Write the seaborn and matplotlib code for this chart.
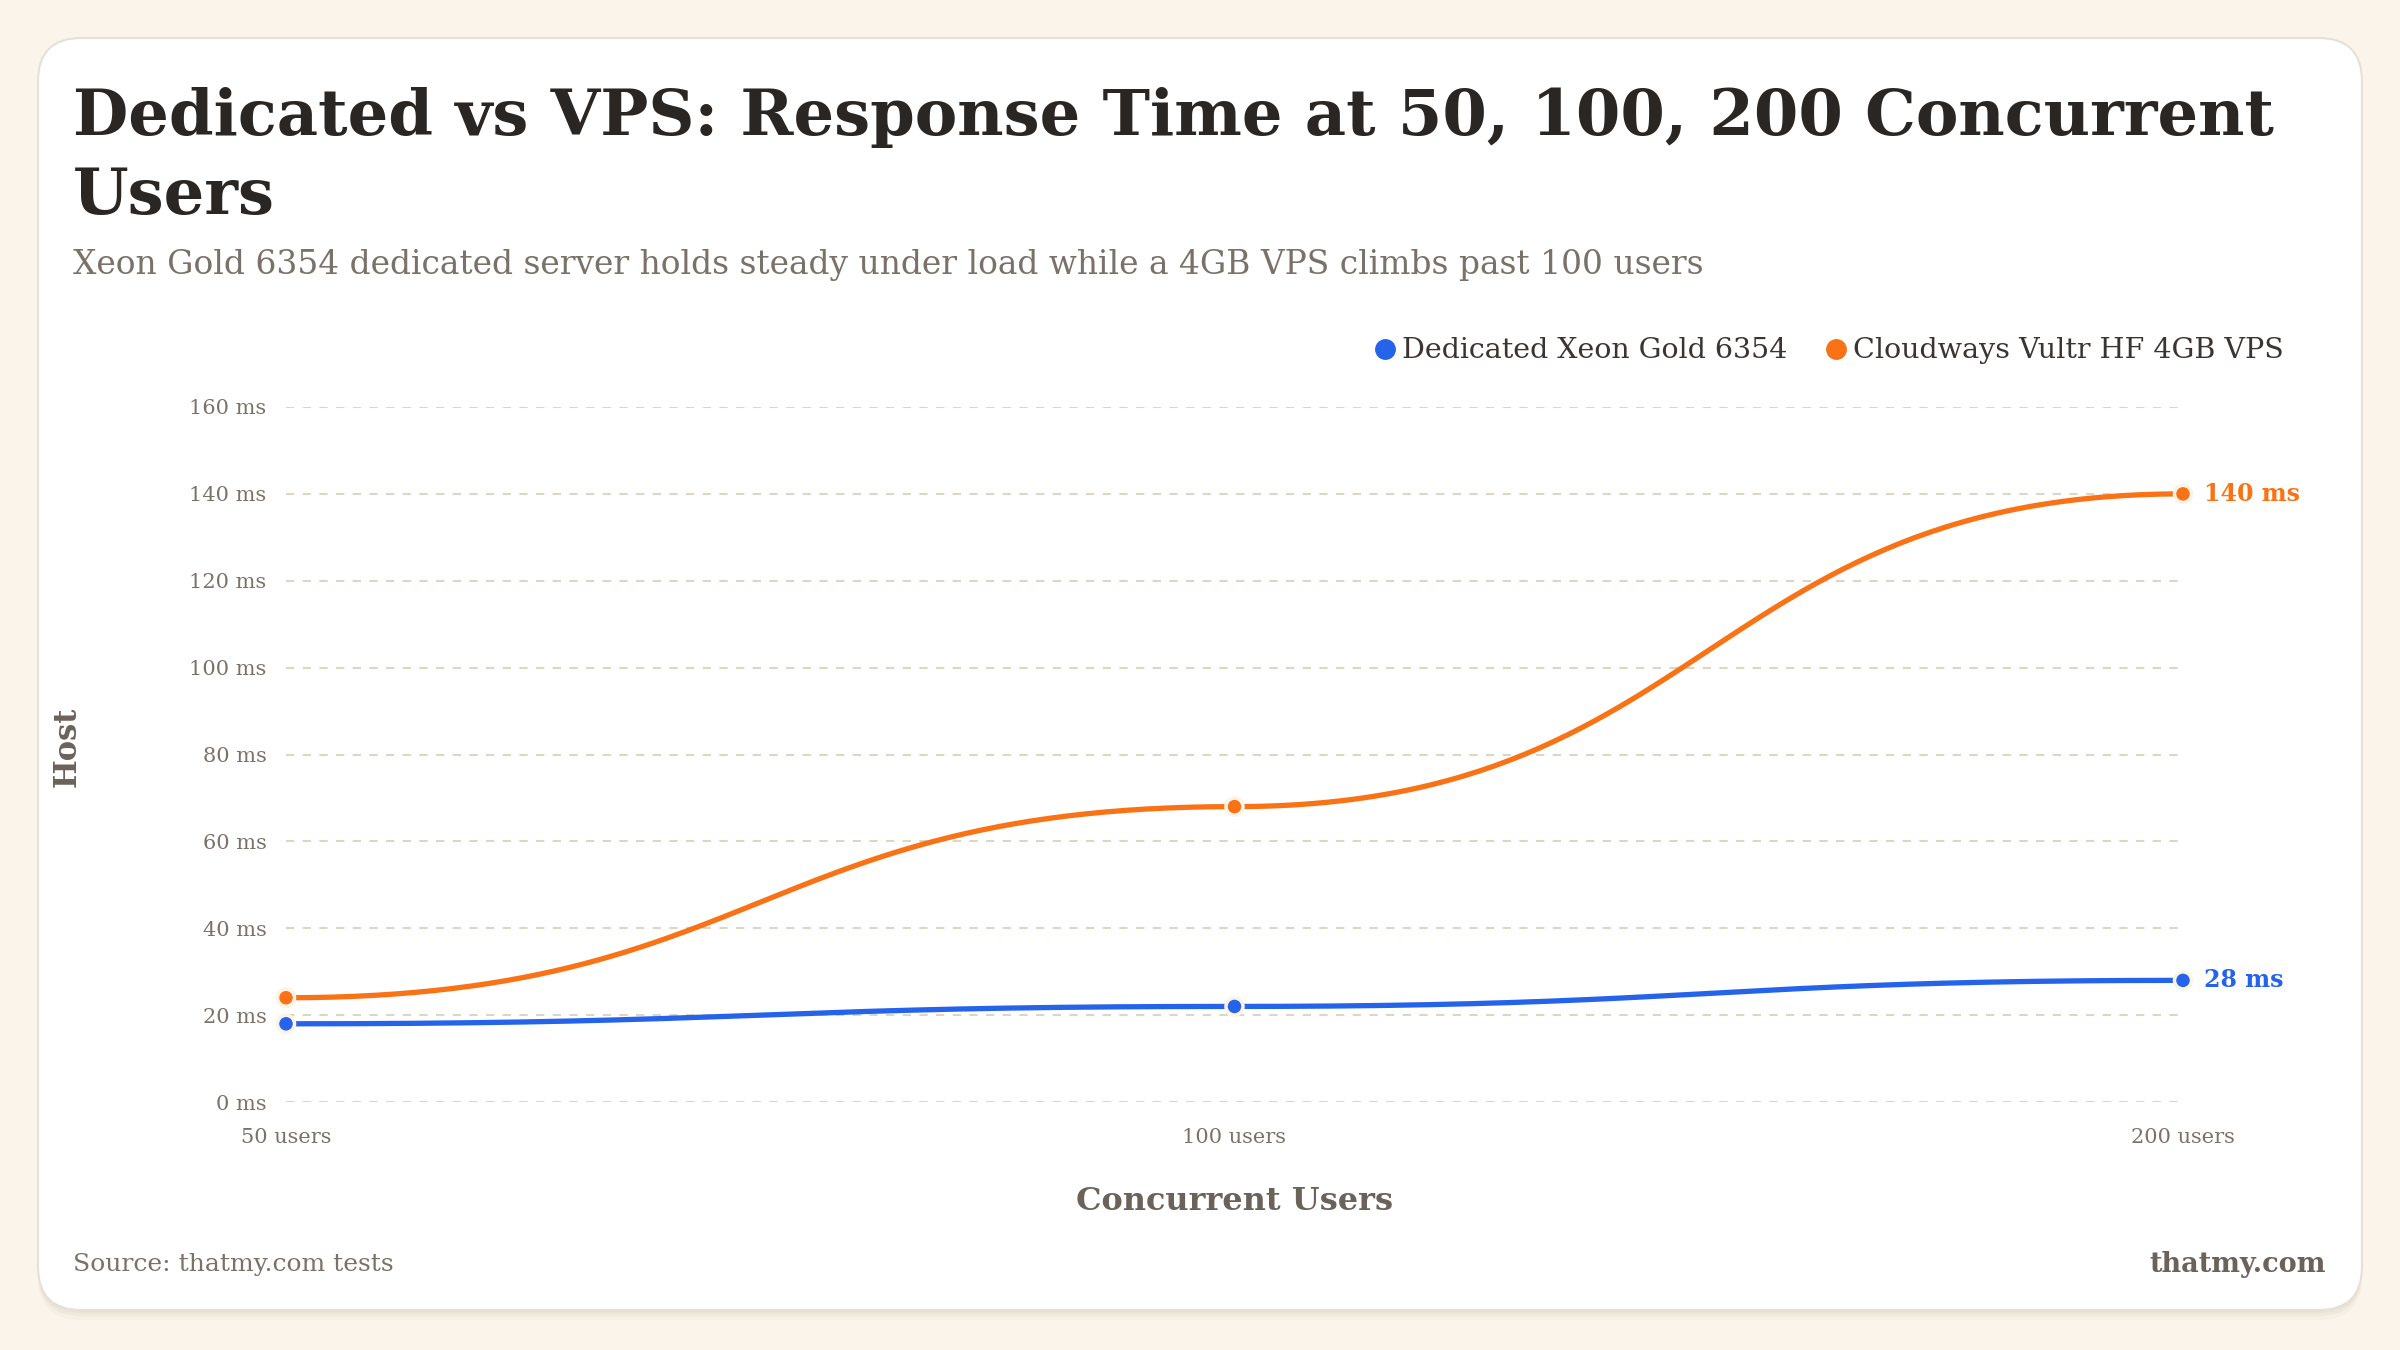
import numpy as np
import pandas as pd
import matplotlib
matplotlib.use("Agg")
import matplotlib.pyplot as plt
from matplotlib.patches import FancyBboxPatch
from matplotlib.lines import Line2D
import seaborn as sns

# ---- data ----
users = ["50 users", "100 users", "200 users"]
dedicated = [18, 22, 28]
vps = [24, 68, 140]
series_names = ["Dedicated Xeon Gold 6354", "Cloudways Vultr HF 4GB VPS"]
y_ticks = [0, 20, 40, 60, 80, 100, 120, 140, 160]
y_tick_labels = [f"{v} ms" for v in y_ticks]

BLUE = "#2563EB"
ORANGE = "#F97316"
BG = "#FAF4EA"
GRID = "#DDD5C6"
GRAY = "#7A7169"
DARK = "#2A2624"

sns.set_theme(style="white")
plt.rcParams["font.family"] = ["DejaVu Serif"]

W, H = 2400, 1350
fig = plt.figure(figsize=(24, 13.5), dpi=100, facecolor=BG)

def fx(px):
    return px / W

def fy(py):
    return 1 - py / H

# card shadow + card
for off, a in [(10, 0.04), (6, 0.05), (3, 0.06)]:
    sh = FancyBboxPatch((fx(38), fy(1310 + off)), fx(2362 - 38), (1310 - 38) / H,
                        boxstyle="round,pad=0,rounding_size=0.018",
                        transform=fig.transFigure, facecolor="#8a7a60", alpha=a,
                        edgecolor="none", zorder=0, mutation_aspect=W / H)
    fig.patches.append(sh)
card = FancyBboxPatch((fx(38), fy(1310)), fx(2362 - 38), (1310 - 38) / H,
                      boxstyle="round,pad=0,rounding_size=0.018",
                      transform=fig.transFigure, facecolor="white",
                      edgecolor="#E6E0D6", linewidth=1.5, zorder=1,
                      mutation_aspect=W / H)
fig.patches.append(card)

ax = fig.add_axes([fx(286), fy(1102), fx(2183 - 286), (1102 - 407) / H])
ax.set_facecolor("none")
ax.set_zorder(2)

def bump_curve(vals, n=120):
    xs, ys = [], []
    for i in range(len(vals) - 1):
        x0, x1 = i, i + 1
        y0, y1 = vals[i], vals[i + 1]
        t = np.linspace(0, 1, n)
        xm = (x0 + x1) / 2
        bx = (1 - t) ** 3 * x0 + 3 * (1 - t) ** 2 * t * xm + 3 * (1 - t) * t ** 2 * xm + t ** 3 * x1
        by = (1 - t) ** 3 * y0 + 3 * (1 - t) ** 2 * t * y0 + 3 * (1 - t) * t ** 2 * y1 + t ** 3 * y1
        xs.append(bx)
        ys.append(by)
    return np.concatenate(xs), np.concatenate(ys)

pts = pd.DataFrame({
    "x": list(range(len(users))) * 2,
    "y": dedicated + vps,
    "series": [series_names[0]] * len(users) + [series_names[1]] * len(users),
})
palette = {series_names[0]: BLUE, series_names[1]: ORANGE}

curves = []
for name, vals in zip(series_names, [dedicated, vps]):
    cx, cy = bump_curve(vals)
    curves.append(pd.DataFrame({"x": cx, "y": cy, "series": name}))
curves = pd.concat(curves, ignore_index=True)

sns.lineplot(data=curves, x="x", y="y", hue="series", palette=palette,
             sort=False, estimator=None, linewidth=3.8, ax=ax, legend=False,
             zorder=3)
sns.scatterplot(data=pts, x="x", y="y", hue="series", palette=palette,
                s=150, edgecolor="#FBF3E6", linewidth=2.5, ax=ax,
                legend=False, zorder=4, clip_on=False)
for l in ax.lines:
    l.set_clip_on(False)

ax.set_xlim(0, len(users) - 1)
ax.set_ylim(0, 160)
ax.set_yticks(y_ticks)
ax.set_yticklabels(y_tick_labels)
ax.set_xticks(range(len(users)))
ax.set_xticklabels(users)
ax.tick_params(axis="both", length=0, labelsize=15, labelcolor=GRAY)
ax.tick_params(axis="y", pad=14)
ax.tick_params(axis="x", pad=19)
for s in ax.spines.values():
    s.set_visible(False)
ax.grid(axis="y", color=GRID, linestyle=(0, (4, 4)), linewidth=1.5)
ax.grid(axis="x", visible=False)
ax.set_axisbelow(True)

ax.set_xlabel("Concurrent Users", fontsize=23, fontweight="bold", color="#6B625A", labelpad=28)
ax.set_ylabel("")
fig.text(fx(67), fy(747), "Host", rotation=90, fontsize=22, fontweight="bold",
         color="#6B625A", ha="center", va="center")

# end labels
ax.annotate(f"{vps[-1]} ms", (len(users) - 1, vps[-1]), xytext=(15, 0),
            textcoords="offset points", color=ORANGE, fontsize=17,
            fontweight="bold", va="center", ha="left", annotation_clip=False)
ax.annotate(f"{dedicated[-1]} ms", (len(users) - 1, dedicated[-1]), xytext=(15, 0),
            textcoords="offset points", color=BLUE, fontsize=17,
            fontweight="bold", va="center", ha="left", annotation_clip=False)

# titles
fig.text(fx(73), fy(135), "Dedicated vs VPS: Response Time at 50, 100, 200 Concurrent",
         fontsize=46, fontweight="bold", color=DARK, ha="left", va="baseline")
fig.text(fx(73), fy(214), "Users", fontsize=46, fontweight="bold", color=DARK,
         ha="left", va="baseline")
fig.text(fx(73), fy(274), "Xeon Gold 6354 dedicated server holds steady under load while a 4GB VPS climbs past 100 users",
         fontsize=23.7, color=GRAY, ha="left", va="baseline")

# legend
handles = [Line2D([0], [0], marker="o", color="none", markerfacecolor=c,
                  markeredgecolor=c, markersize=14) for c in (BLUE, ORANGE)]
leg = fig.legend(handles, series_names, loc="center right",
                 bbox_to_anchor=(fx(2295), fy(351)), ncol=2, frameon=False,
                 fontsize=20.5, handletextpad=0.1, columnspacing=1.2,
                 handlelength=1.0, borderaxespad=0)
for t in leg.get_texts():
    t.set_color("#3A3532")

# footer
fig.text(fx(73), fy(1265), "Source: thatmy.com tests", fontsize=18, color=GRAY,
         ha="left", va="center")
fig.text(fx(2326), fy(1265), "thatmy.com", fontsize=19.5, fontweight="bold",
         color="#6B625A", ha="right", va="center")

fig.savefig("out.png", dpi=100, facecolor=BG)
